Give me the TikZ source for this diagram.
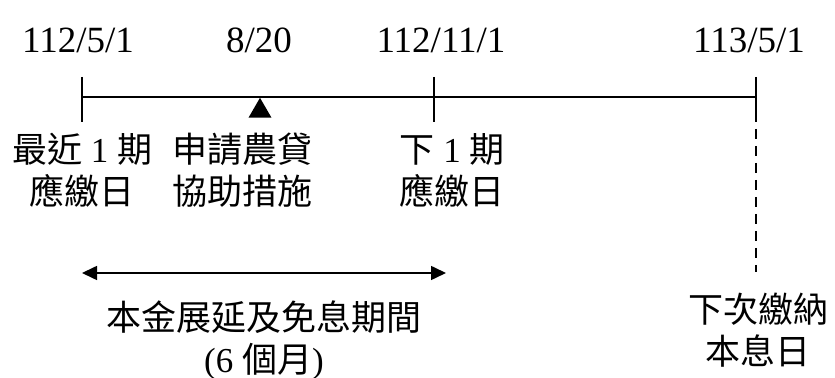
\documentclass[tikz,border=0pt]{standalone}
\usepackage{fontspec}
\setmainfont{Liberation Serif}
\newfontfamily\cjk{Noto Sans CJK TC}
\newcommand{\zh}[1]{{\cjk #1}}
\usepackage{tikz}
\usetikzlibrary{arrows.meta,shapes.geometric}
\tikzset{
  dateLbl/.style={ inner sep=0pt, font=\fontsize{18.5}{21}\selectfont }
}
\tikzset{
  noteLbl/.style={ inner sep=0pt, align=center, font=\fontsize{17.5}{21}\selectfont }
}
\tikzset{
  axisLn/.style={ line width=0.8pt }
}
\tikzset{
  tickLn/.style={ line width=0.65pt }
}
\begin{document}
\begin{tikzpicture}[x=0.5pt, y=-0.5pt]
      \useasboundingbox (0,0) rectangle (835,378);
      \coordinate (t0) at (82,97);
      \coordinate (t1) at (434,97);
      \coordinate (t2) at (756,97);
      \coordinate (dEnd) at (756,272);
      \coordinate (spanL) at (82,273);
      \coordinate (spanR) at (446,273);
      \node[dateLbl] (d0) at (78,40) {112/5/1};
      \node[dateLbl] (dApply) at (259,40) {8/20};
      \node[dateLbl] (d1) at (441,40) {112/11/1};
      \node[dateLbl] (d2) at (749,40) {113/5/1};
      \node[regular polygon, regular polygon sides=3, fill, inner sep=0pt,
            minimum size=13.3pt, anchor=corner 1] (flag) at (260,97) {};
      \node[noteLbl] (n0) at (82,170) {\zh{最近} 1 \zh{期}\\\zh{應繳日}};
      \node[noteLbl] (nApply) at (242,170) {\zh{申請農貸}\\\zh{協助措施}};
      \node[noteLbl] (n1) at (452,170) {\zh{下} 1 \zh{期}\\\zh{應繳日}};
      \node[noteLbl] (nSpan) at (264,340) {\zh{本金展延及免息期間}\\(6 \zh{個月})};
      \node[noteLbl] (nNext) at (758,330) {\zh{下次繳納}\\\zh{本息日}};
      \draw[axisLn] (t0) -- (t2);
      \foreach \t in {t0,t1,t2}
        \draw[tickLn] ([yshift=10pt]\t) -- ([yshift=-12.5pt]\t);
      \draw[tickLn, dash pattern=on 5pt off 3.5pt, dash phase=5pt] ([yshift=-12.5pt]t2) -- (dEnd);
      \draw[axisLn, {Triangle[length=7.5pt,width=7pt]}-{Triangle[length=7.5pt,width=7pt]}] (spanL) -- (spanR);
    \end{tikzpicture}
\end{document}
